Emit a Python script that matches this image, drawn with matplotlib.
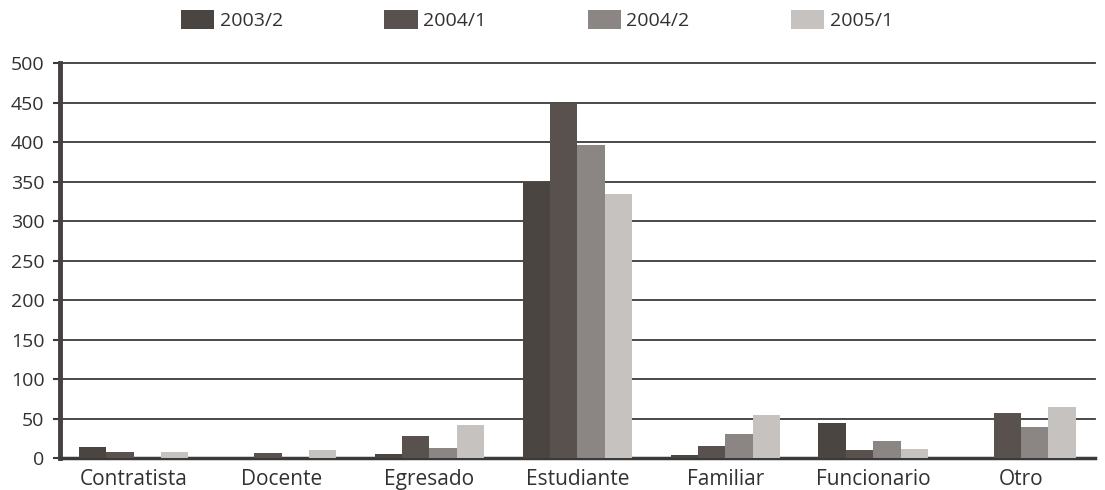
import matplotlib

matplotlib.use("Agg")
import matplotlib.pyplot as plt
import numpy as np

categories = ["Contratista", "Docente", "Egresado", "Estudiante", "Familiar", "Funcionario", "Otro"]
series_names = ["2003/2", "2004/1", "2004/2", "2005/1"]
s2003_2 = [14, 0, 5, 350, 4, 44, 0]
s2004_1 = [8, 7, 28, 448, 15, 10, 57]
s2004_2 = [0, 0, 13, 396, 31, 22, 40]
s2005_1 = [8, 10, 42, 335, 54, 11, 65]
y_ticks = list(range(0, 501, 50))

colors = ["#4b4542", "#58514d", "#8b8583", "#c6c2bf"]
text_color = "#333030"

plt.rcParams["font.family"] = ["Open Sans", "DejaVu Sans"]

fig = plt.figure(figsize=(11.05, 4.9), dpi=100)
ax = fig.add_axes([0.054, 0.065, 0.937, 0.806])

x = np.arange(len(categories))
width = 0.185
for i, (name, vals) in enumerate(zip(series_names, [s2003_2, s2004_1, s2004_2, s2005_1])):
    ax.bar(x + (i - 1.5) * width, vals, width, color=colors[i], label=name, zorder=3)

ax.set_ylim(0, 500)
ax.set_xlim(-0.5, len(categories) - 0.5)
ax.set_yticks(y_ticks)
ax.set_xticks(x)
ax.set_xticklabels(categories)
ax.tick_params(axis="y", labelsize=14, length=5, width=1.5, color="#3a3a3a", labelcolor=text_color, pad=6)
ax.tick_params(axis="x", labelsize=15, length=0, pad=8, labelcolor=text_color)
ax.yaxis.grid(True, color="#3a3a3a", linewidth=1.3, zorder=0)
for line in ax.get_ygridlines():
    line.set_clip_on(False)
for side in ["top", "right"]:
    ax.spines[side].set_visible(False)
ax.spines["left"].set_color("#454040")
ax.spines["left"].set_linewidth(3.5)
ax.spines["bottom"].set_color("#3a3a3a")
ax.spines["bottom"].set_linewidth(2.5)

fig.legend(loc="upper center", bbox_to_anchor=(0.486, 1.015), ncol=4, frameon=False,
           fontsize=14, handlelength=1.7, handleheight=1.1, handletextpad=0.3,
           columnspacing=5.2, labelcolor=text_color)

fig.savefig("out.png", dpi=100)
